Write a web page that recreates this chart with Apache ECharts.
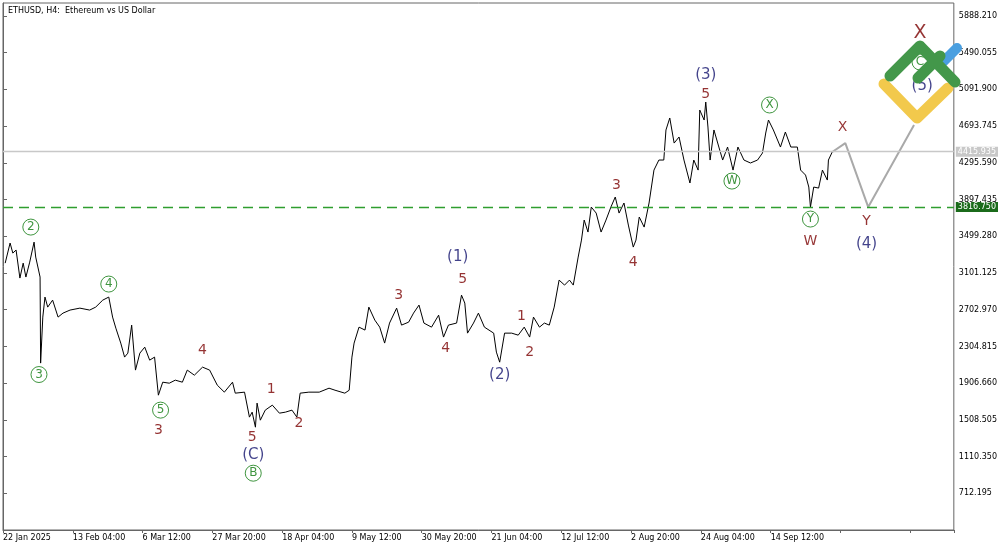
<!DOCTYPE html>
<html>
<head>
<meta charset="UTF-8">
<title>ETHUSD H4</title>
<script src="https://cdn.jsdelivr.net/npm/echarts@6/dist/echarts.min.js"></script>
</head>
<body style="margin:0">
<div id="main" style="width:1000px;height:545px;"></div>
<script type="text/javascript">
    // price path: [bar index, price]
    var priceBars = [4,13,18,24,31,37,42,49,57,60,68,69,73,77,82,91,101,110,123,141,159,170,183,194,201,207,216,223,229,236,243,251,260,269,278,285,293,305,316,329,338,351,366,379,393,406,421,426,443,452,457,463,466,472,481,494,507,518,530,539,545,561,580,598,609,627,635,640,644,653,664,671,682,691,700,709,722,731,744,753,763,772,786,799,808,817,832,841,847,852,863,872,883,900,905,911,920,933,945,956,966,973,984,993,1002,1011,1020,1030,1039,1046,1055,1061,1066,1073,1079,1088,1097,1106,1115,1123,1130,1139,1147,1156,1161,1167,1176,1185,1194,1203,1212,1216,1223,1231,1240,1249,1260,1267,1275,1278,1286,1289,1293,1297,1304,1313,1320,1329,1339,1348,1359,1371,1384,1393,1399,1404,1413,1426,1435,1445,1457,1463,1472,1478,1481,1487,1496,1503,1512,1514,1521];
    var priceValues = [3208,3426,3317,3350,3046,3208,3057,3219,3436,3274,3057,2124,2623,2840,2731,2807,2623,2666,2699,2720,2699,2731,2807,2840,2623,2503,2341,2189,2232,2536,2048,2232,2297,2156,2189,1776,1917,1906,1939,1917,2048,1993,2080,2048,1885,1809,1917,1798,1809,1538,1592,1429,1690,1505,1614,1668,1581,1592,1614,1538,1798,1809,1809,1852,1830,1798,1830,2189,2341,2514,2482,2731,2590,2514,2341,2558,2720,2536,2568,2666,2753,2558,2514,2644,2406,2536,2558,2861,2775,2449,2558,2666,2514,2449,2243,2134,2449,2449,2427,2514,2406,2623,2514,2558,2536,2731,3024,2970,3024,2970,3274,3458,3675,3545,3816,3751,3545,3675,3816,3925,3751,3860,3621,3382,3458,3708,3599,3860,4217,4326,4326,4652,4782,4510,4576,4326,4077,4326,4217,4868,4760,4955,4684,4326,4652,4467,4326,4467,4217,4467,4326,4294,4326,4402,4619,4760,4652,4467,4630,4467,4467,4217,4163,4033,3816,4033,4022,4217,4109,4326,4413];
    // forecast path
    var forecastBars = [1521,1545,1587,1671];
    var forecastValues = [4413,4510,3816,4706];

    var xTickLabels = ['22 Jan 2025','13 Feb 04:00','6 Mar 12:00','27 Mar 20:00','18 Apr 04:00','9 May 12:00','30 May 20:00','21 Jun 04:00','12 Jul 12:00','2 Aug 20:00','24 Aug 04:00','14 Sep 12:00'];
    var currentPrice = 4415.935;
    var levelPrice = 3816.750;

    // wave labels: [text, bar, price]
    var greenCircled = [['2',51,3599],['3',66,2000],['4',194,2981],['5',289,1614],['B',459,930],['W',1337,4098],['X',1406,4923],['Y',1481,3686],['C',1682,5389]];
    var redLabels = [['3',285,1397],['4',366,2265],['5',457,1321],['1',492,1842],['2',543,1473],['3',726,2861],['4',812,2287],['5',843,3035],['1',951,2634],['2',966,2243],['3',1125,4055],['4',1156,3219],['5',1289,5042],['X',1540,4684],['Y',1584,3664],['W',1481,3447]];
    var navyLabels = [['(1)',834,3274],['(2)',911,1993],['(3)',1289,5248],['(C)',459,1125],['(4)',1584,3415],['(5)',1686,5129]];
    var bigX = [['X',1682,5704]];

    function zip(a, b) { return a.map(function (v, i) { return [v, b[i]]; }); }
    function labelSeries(list, labelOpt) {
        return {
            type: 'scatter', symbolSize: 0, silent: true, z: 5,
            emphasis: { disabled: true },
            data: list.map(function (d) { return { value: [d[1], d[2]], name: d[0] }; }),
            label: Object.assign({ show: true, position: 'inside', formatter: '{b}', textBorderWidth: 0 }, labelOpt)
        };
    }
    function levelSeries(price, color, type, tagBg) {
        return {
            type: 'line', data: [], silent: true,
            emphasis: { disabled: true },
            markLine: {
                symbol: 'none', silent: true,
                emphasis: { disabled: true },
                lineStyle: { color: color, type: type, width: 1.3, opacity: 1 },
                label: { position: 'end', formatter: price.toFixed(3), backgroundColor: tagBg, color: '#fff', fontSize: 8, padding: [1, 2], distance: 2 },
                data: [{ yAxis: price }]
            }
        };
    }

    var chart = echarts.init(document.getElementById('main'));
    var option = {
        animation: false,
        backgroundColor: '#fff',
        textStyle: { fontFamily: 'DejaVu Sans' },
        title: {
            text: 'ETHUSD, H4:  Ethereum vs US Dollar', left: 3, top: 2,
            textStyle: { fontSize: 8, fontWeight: 'normal', color: '#000' }
        },
        grid: { left: 1, right: 46, top: 3, bottom: 15, show: true, borderColor: '#666', borderWidth: 1 },
        xAxis: {
            type: 'value', min: 0, max: 1744, interval: 128,
            splitLine: { show: false },
            axisLine: { lineStyle: { color: '#666' } },
            axisTick: { show: true, length: 3, lineStyle: { color: '#666' } },
            axisLabel: {
                fontSize: 8, color: '#000', align: 'left', margin: 4,
                formatter: function (v) { return xTickLabels[Math.round(v / 128)] || ''; }
            }
        },
        yAxis: {
            type: 'value', position: 'right', min: 314.04, max: 6029, interval: 398.155,
            splitLine: { show: false },
            axisLine: { show: true, lineStyle: { color: '#666' } },
            axisTick: { show: true, length: 4, inside: false, lineStyle: { color: '#666' } },
            axisLabel: {
                fontSize: 8, color: '#000', margin: 5, showMinLabel: false, showMaxLabel: false,
                formatter: function (v) { return v.toFixed(3); }
            }
        },
        series: [
            levelSeries(currentPrice, '#c8c8c8', 'solid', '#c8c8c8'),
            levelSeries(levelPrice, '#2f9e2f', [10, 6], '#1b6b1b'),
            {
                type: 'line', data: zip(priceBars, priceValues), symbol: 'none', silent: true,
                emphasis: { disabled: true },
                itemStyle: { color: '#000' },
                lineStyle: { color: '#000', width: 1 }
            },
            {
                type: 'line', data: zip(forecastBars, forecastValues), symbol: 'none', silent: true,
                emphasis: { disabled: true },
                itemStyle: { color: '#a9a9a9' },
                lineStyle: { color: '#a9a9a9', width: 2 }
            },
            labelSeries(greenCircled, {
                fontSize: 12, color: '#0f7a0f', borderColor: '#0f7a0f', borderWidth: 1,
                borderRadius: 9, width: 16, height: 16, lineHeight: 16, align: 'center', verticalAlign: 'middle'
            }),
            labelSeries(redLabels, { fontSize: 14, color: '#7a0000' }),
            labelSeries(navyLabels, { fontSize: 15, color: '#14146e' }),
            labelSeries(bigX, { fontSize: 19, color: '#7a0000' })
        ],
        graphic: [
            { type: 'polyline', z: 10, shape: { points: [[884, 84], [917, 118], [948, 88]] },
              style: { stroke: '#f2c94c', lineWidth: 11, lineCap: 'round', lineJoin: 'round', fill: null } },
            { type: 'line', z: 11, shape: { x1: 943, y1: 62, x2: 957, y2: 48 },
              style: { stroke: '#4a9fe0', lineWidth: 10, lineCap: 'round' } },
            { type: 'polyline', z: 12, shape: { points: [[890, 76], [920, 46], [955, 82]] },
              style: { stroke: '#43974a', lineWidth: 11, lineCap: 'round', lineJoin: 'round', fill: null } },
            { type: 'line', z: 12, shape: { x1: 918, y1: 78, x2: 940, y2: 56 },
              style: { stroke: '#43974a', lineWidth: 11, lineCap: 'round' } }
        ]
    };
    chart.setOption(option);
</script>
</body>
</html>
